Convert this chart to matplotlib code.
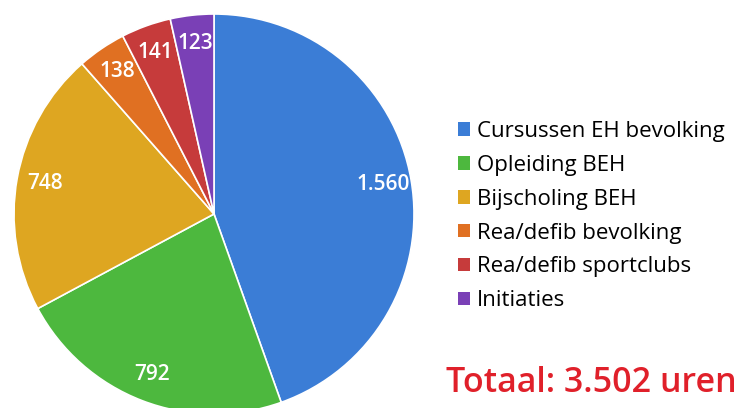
import numpy as np
import matplotlib.pyplot as plt
from matplotlib.patches import Patch

labels = ['Cursussen EH bevolking', 'Opleiding BEH', 'Bijscholing BEH',
          'Rea/defib bevolking', 'Rea/defib sportclubs', 'Initiaties']
uren = [1560, 792, 748, 138, 141, 123]
value_labels = ['1.560', '792', '748', '138', '141', '123']
colors = ['#3B7DD6', '#4DB83E', '#DEA621', '#E07022', '#C63B3B', '#7A40B6']
totaal_text = 'Totaal: 3.502 uren'

plt.rcParams['font.family'] = ['Open Sans', 'DejaVu Sans']

fig = plt.figure(figsize=(7.4, 4.08), dpi=100)
ax = fig.add_axes([14 / 740, -6 / 408, 400 / 740, 400 / 408])

wedges, _ = ax.pie(uren, colors=colors, startangle=90, counterclock=False,
                   radius=1.0, wedgeprops=dict(edgecolor='white', linewidth=1.2))
ax.set_xlim(-1, 1)
ax.set_ylim(-1, 1)
ax.set_aspect('equal')

# value labels inside the slices
theta = 90.0
total = sum(uren)
for v, txt in zip(uren, value_labels):
    span = 360.0 * v / total
    mid = np.deg2rad(theta - span / 2)
    ax.text(0.86 * np.cos(mid), 0.86 * np.sin(mid), txt, color='white',
            fontsize=15, fontweight='semibold', ha='center', va='center')
    theta -= span

handles = [Patch(facecolor=c, edgecolor='none') for c in colors]
fig.legend(handles, labels, loc='upper left', bbox_to_anchor=(449 / 740, 1 - 112 / 408),
           frameon=False, fontsize=16, handlelength=0.55, handleheight=0.55,
           handletextpad=0.3, labelspacing=0.58, borderaxespad=0)

fig.text(446 / 740, 1 - 383 / 408, totaal_text, color='#E0202A', fontsize=24.5,
         fontweight='semibold', ha='left', va='center')

fig.savefig('out.png', dpi=100)
